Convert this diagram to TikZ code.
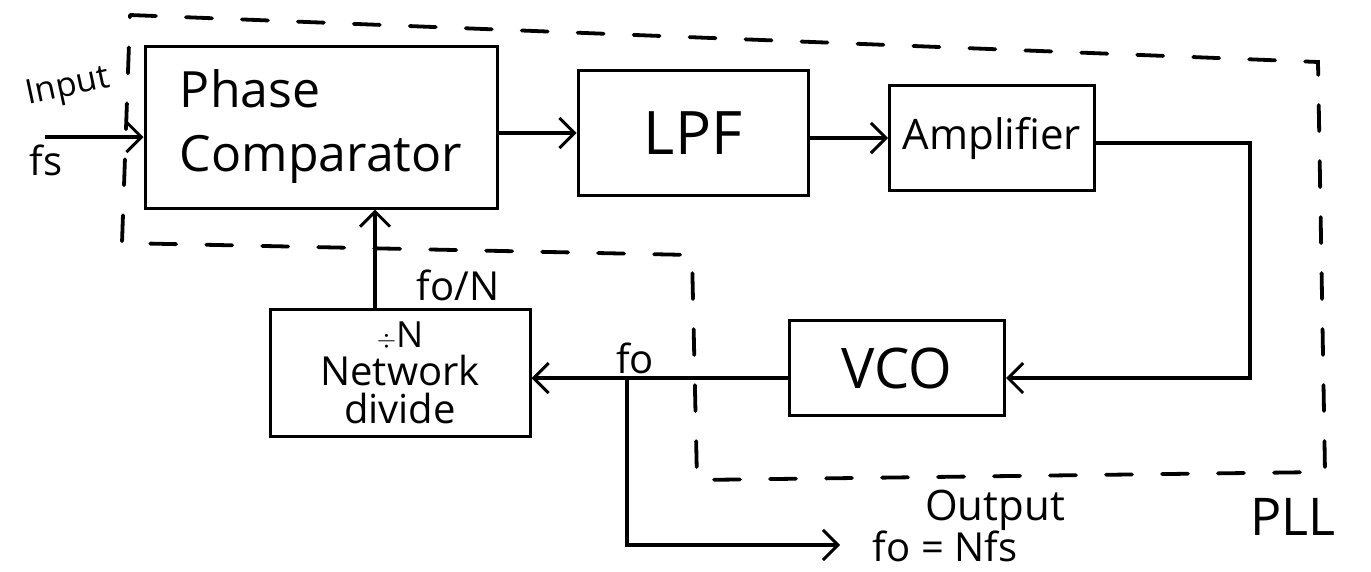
\documentclass[tikz,border=0pt]{standalone}
\usepackage{fontspec}
\setmainfont{Open Sans}
\usetikzlibrary{arrows.meta}
\newcommand\hsz[2]{\fontsize{#1}{#2}\selectfont}
\begin{document}
\begin{tikzpicture}[x=1pt,y=-1pt,
  block/.style={draw, line width=3pt, inner sep=0pt, align=center},
  arr/.style={line width=3.2pt, -{Straight Barb[length=15pt,width=30pt,line width=3pt]}},
  pll/.style={line width=3.8pt, dash pattern=on 26pt off 30pt, line cap=round},
  lbl/.style={inner sep=0pt}]
\useasboundingbox (0,0) rectangle (1371,571);

% functional blocks
\node[block, minimum width=352pt, minimum height=162pt, align=left,
      font=\hsz{50}{64}] (pc) at (321,127) {Phase\\Comparator};
\node[block, minimum width=230pt, minimum height=125pt, font=\hsz{60}{60}]
      (lpf) at (693,133) {LPF};
\node[block, minimum width=205pt, minimum height=105pt, font=\hsz{42}{42}]
      (amp) at (992,138) {Amplifier};
\node[block, minimum width=215pt, minimum height=95pt, font=\hsz{56}{56}]
      (vco) at (897,368) {VCO};
\node[block, minimum width=260pt, minimum height=127pt, font=\hsz{40}{38}]
      (div) at (400,373) {{\hsz{36}{36}$\div$N}\\Network\\divide};

% routing points
\coordinate (inp) at (45,137);
\coordinate (c1) at (1250,143);
\coordinate (c2) at (1250,378);
\coordinate (j) at (627,378);
\coordinate (o1) at (627,545);
\coordinate (o2) at (840,545);

% signal path
\draw[arr] (inp) -- (inp -| pc.west);
\draw[arr] (pc.east |- lpf) -- (lpf.west);
\draw[arr] (lpf.east |- amp) -- (amp.west);
\draw[arr] (amp.east |- c1) -- (c1) -- (c2) -- (c2 -| vco.east);
\draw[arr] (vco.west |- c2) -- (c2 -| div.east);
\draw[arr] (j) -- (o1) -- (o2);
\draw[arr] ([xshift=-25pt]div.north) -- ([xshift=-25pt]div.north |- pc.south);

% PLL boundary
\draw[pll] (130,15) -- (1318,62) -- (1325,472) -- (697,480) -- (692,255)
  -- (122,243) -- cycle;

% labels
\node[lbl, font=\hsz{34}{34}, rotate=12] (tin) at (68,88) {Input};
\node[lbl, font=\hsz{40}{40}] (tfs) at (46,160) {fs};
\node[lbl, font=\hsz{40}{40}] (tfn) at (458,285) {fo/N};
\node[lbl, font=\hsz{40}{40}] (tfo) at (635,358) {fo};
\node[lbl, font=\hsz{42}{42}] (tout) at (995,510) {Output};
\node[lbl, font=\hsz{40}{40}] (teq) at (945,546) {fo = Nfs};
\node[lbl, font=\hsz{52}{52}] (tpll) at (1293,517) {PLL};
\end{tikzpicture}
\end{document}
